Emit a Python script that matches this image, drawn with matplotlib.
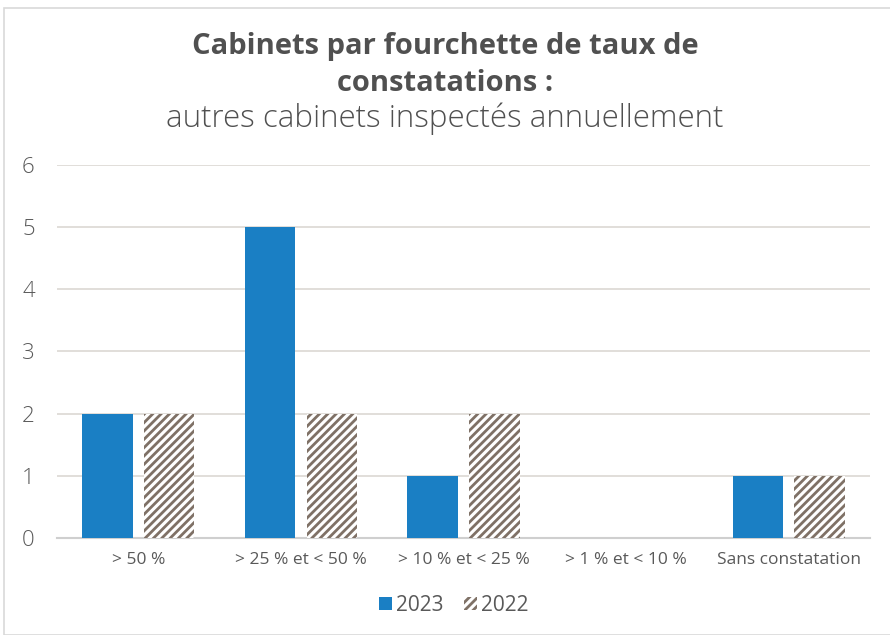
import numpy as np
import matplotlib.pyplot as plt
from matplotlib.patches import Rectangle, Patch

categories = ["> 50 %", "> 25 % et < 50 %", "> 10 % et < 25 %", "> 1 % et < 10 %", "Sans constatation"]
values_2023 = [2, 5, 1, 0, 1]
values_2022 = [2, 2, 2, 0, 1]

blue = "#1a7fc4"
hatch_col = "#7f7166"
text_col = "#595959"

plt.rcParams['font.family'] = ['Open Sans', 'DejaVu Sans']
plt.rcParams['hatch.linewidth'] = 2.0

fig = plt.figure(figsize=(8.9, 6.35), dpi=100)
fig.patches.append(Rectangle((0.004, 0.0), 1.2, 0.987, transform=fig.transFigure,
                             fill=False, edgecolor="#d9d9d9", linewidth=1.2))
ax = fig.add_axes([0.064, 0.1528, 0.9135, 0.5874])

x = np.arange(len(categories))
w = 0.31
off = 0.19
ax.bar(x - off, values_2023, width=w, color=blue, label="2023", zorder=3)
ax.bar(x + off, values_2022, width=w, color="white", edgecolor=hatch_col, hatch="////",
       linewidth=0, label="2022", zorder=3)

ax.set_xlim(-0.5, 4.5)
ax.set_ylim(0, 6)
ax.set_yticks(range(0, 7))
ax.set_xticks(x)
ax.set_xticklabels(categories)
ax.grid(axis="y", color="#dcd8d3", linewidth=1.2, zorder=0)
for s in ["top", "right", "left"]:
    ax.spines[s].set_visible(False)
ax.spines["bottom"].set_color("#cfcfcf")
ax.spines["bottom"].set_linewidth(1.5)
ax.tick_params(axis="both", length=0, colors=text_col)
ax.tick_params(axis="y", labelsize=16, pad=16)
ax.tick_params(axis="x", labelsize=12.5, pad=10)
for lbl in ax.get_yticklabels():
    lbl.set_fontweight("light")

fig.text(0.5, 0.927, "Cabinets par fourchette de taux de", ha="center", va="center",
         fontsize=21, fontweight="bold", color="#505050")
fig.text(0.5, 0.868, "constatations :", ha="center", va="center",
         fontsize=21, fontweight="bold", color="#505050")
fig.text(0.5, 0.813, "autres cabinets inspectés annuellement", ha="center", va="center",
         fontsize=22.5, fontweight="light", color="#505050")

handles = [Patch(facecolor=blue, label="2023"),
           Patch(facecolor="white", edgecolor=hatch_col, hatch="////", linewidth=0, label="2022")]
fig.legend(handles=handles, loc="center", bbox_to_anchor=(0.51, 0.047), ncol=2, frameon=False,
           fontsize=15, labelcolor=text_col, handlelength=0.6, handleheight=0.6,
           handletextpad=0.2, columnspacing=1.0)

fig.savefig("out.png", dpi=100)
